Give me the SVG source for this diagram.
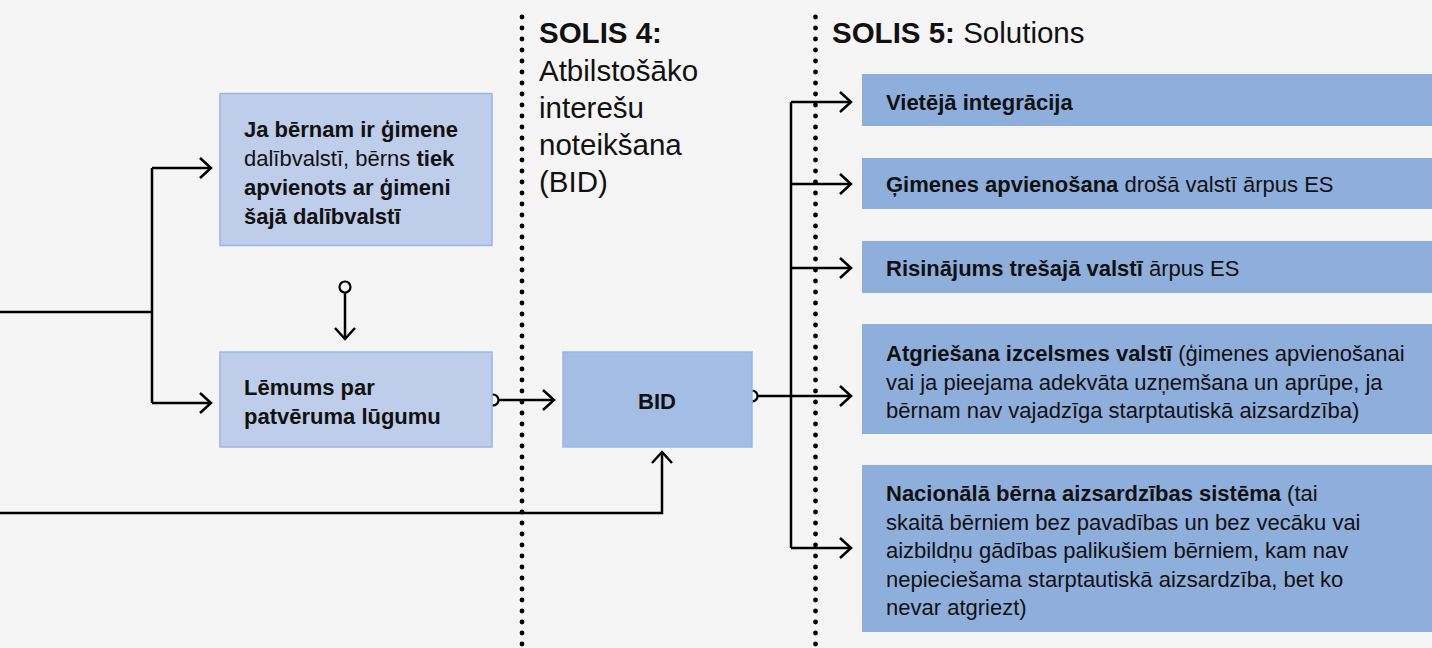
<svg xmlns="http://www.w3.org/2000/svg" width="1432" height="648" viewBox="0 0 1432 648">
<defs>
<marker id="arr" markerUnits="userSpaceOnUse" viewBox="0 0 14 22" refX="12" refY="11" markerWidth="14" markerHeight="22" orient="auto">
<path d="M1,1 L12,11 L1,21" fill="none" stroke="#000" stroke-width="2.5"/>
</marker>
<style>
text{font-family:"Liberation Sans",Arial,sans-serif;fill:#111;}
.t{font-size:22px;}
.h{font-size:29.5px;}
.b{font-weight:bold;}
.line{fill:none;stroke:#000;stroke-width:2.5;}
.arrow{fill:none;stroke:#000;stroke-width:2.5;marker-end:url(#arr);}
.dot{fill:#f5f5f5;stroke:#000;stroke-width:2.2;}
.sep{fill:none;stroke:#000;stroke-width:4.8;stroke-linecap:round;stroke-dasharray:0 11;}
.lb{fill:#bdcdea;stroke:#9ab6e2;stroke-width:1.5;}
.mb{fill:#a4bde5;stroke:#9bb7e3;stroke-width:1.5;}
.rb{fill:#8eaedc;}
</style>
</defs>
<rect width="1432" height="648" fill="#f5f5f5"/>

<g id="separators">
<line class="sep" x1="522" y1="17" x2="522" y2="648"/>
<line class="sep" x1="815.5" y1="17" x2="815.5" y2="648"/>
</g>

<g id="connectors">
<path class="line" d="M0,312 H152"/>
<path class="line" d="M152,168 V403"/>
<path class="arrow" d="M152,168 H211"/>
<path class="arrow" d="M152,403 H211"/>
<circle class="dot" cx="345" cy="287" r="5.5"/>
<path class="arrow" d="M345,292.5 V339"/>
<circle class="dot" cx="493" cy="400" r="5.5"/>
<path class="arrow" d="M498.5,400 H554"/>
<path class="arrow" d="M0,513 H662 V452"/>
<circle class="dot" cx="752" cy="396" r="5.5"/>
<path class="line" d="M757.5,396 H791"/>
<path class="line" d="M791,102 V548"/>
<path class="arrow" d="M791,102 H851"/>
<path class="arrow" d="M791,184 H851"/>
<path class="arrow" d="M791,268 H851"/>
<path class="arrow" d="M791,396 H851"/>
<path class="arrow" d="M791,548 H851"/>
</g>

<g id="heading4">
<text class="h" x="539" y="43"><tspan class="b">SOLIS 4:</tspan></text>
<text class="h" x="539" y="81">Atbilstošāko</text>
<text class="h" x="539" y="118">interešu</text>
<text class="h" x="539" y="155">noteikšana</text>
<text class="h" x="539" y="192">(BID)</text>
</g>
<g id="heading5">
<text class="h" x="832" y="43"><tspan class="b">SOLIS 5:</tspan> Solutions</text>
</g>

<g id="node-family">
<rect class="lb" x="220" y="93.5" width="272" height="152"/>
<text class="t" x="244" y="137"><tspan class="b">Ja bērnam ir ģimene</tspan></text>
<text class="t" x="244" y="166">dalībvalstī, bērns <tspan class="b">tiek</tspan></text>
<text class="t b" x="244" y="195">apvienots ar ģimeni</text>
<text class="t b" x="244" y="224">šajā dalībvalstī</text>
</g>

<g id="node-decision">
<rect class="lb" x="220" y="352" width="272" height="95"/>
<text class="t b" x="244" y="395">Lēmums par</text>
<text class="t b" x="244" y="424">patvēruma lūgumu</text>
</g>

<g id="node-bid">
<rect class="mb" x="563" y="352" width="189" height="95"/>
<text class="t b" x="657" y="409" text-anchor="middle">BID</text>
</g>

<g id="node-local">
<rect class="rb" x="862" y="74" width="570" height="52"/>
<text class="t b" x="886" y="110">Vietējā integrācija</text>
</g>

<g id="node-reunification">
<rect class="rb" x="862" y="158" width="570" height="51"/>
<text class="t" x="886" y="192"><tspan class="b">Ģimenes apvienošana</tspan> drošā valstī ārpus ES</text>
</g>

<g id="node-third">
<rect class="rb" x="862" y="241" width="570" height="52"/>
<text class="t" x="886" y="276"><tspan class="b">Risinājums trešajā valstī</tspan> ārpus ES</text>
</g>

<g id="node-return">
<rect class="rb" x="862" y="324" width="570" height="110"/>
<text class="t" x="886" y="361"><tspan class="b">Atgriešana izcelsmes valstī</tspan> (ģimenes apvienošanai</text>
<text class="t" x="886" y="390">vai ja pieejama adekvāta uzņemšana un aprūpe, ja</text>
<text class="t" x="886" y="418">bērnam nav vajadzīga starptautiskā aizsardzība)</text>
</g>

<g id="node-national">
<rect class="rb" x="862" y="465" width="570" height="167"/>
<text class="t" x="886" y="501"><tspan class="b">Nacionālā bērna aizsardzības sistēma</tspan> (tai</text>
<text class="t" x="886" y="530">skaitā bērniem bez pavadības un bez vecāku vai</text>
<text class="t" x="886" y="558">aizbildņu gādības palikušiem bērniem, kam nav</text>
<text class="t" x="886" y="587">nepieciešama starptautiskā aizsardzība, bet ko</text>
<text class="t" x="886" y="615">nevar atgriezt)</text>
</g>
</svg>
